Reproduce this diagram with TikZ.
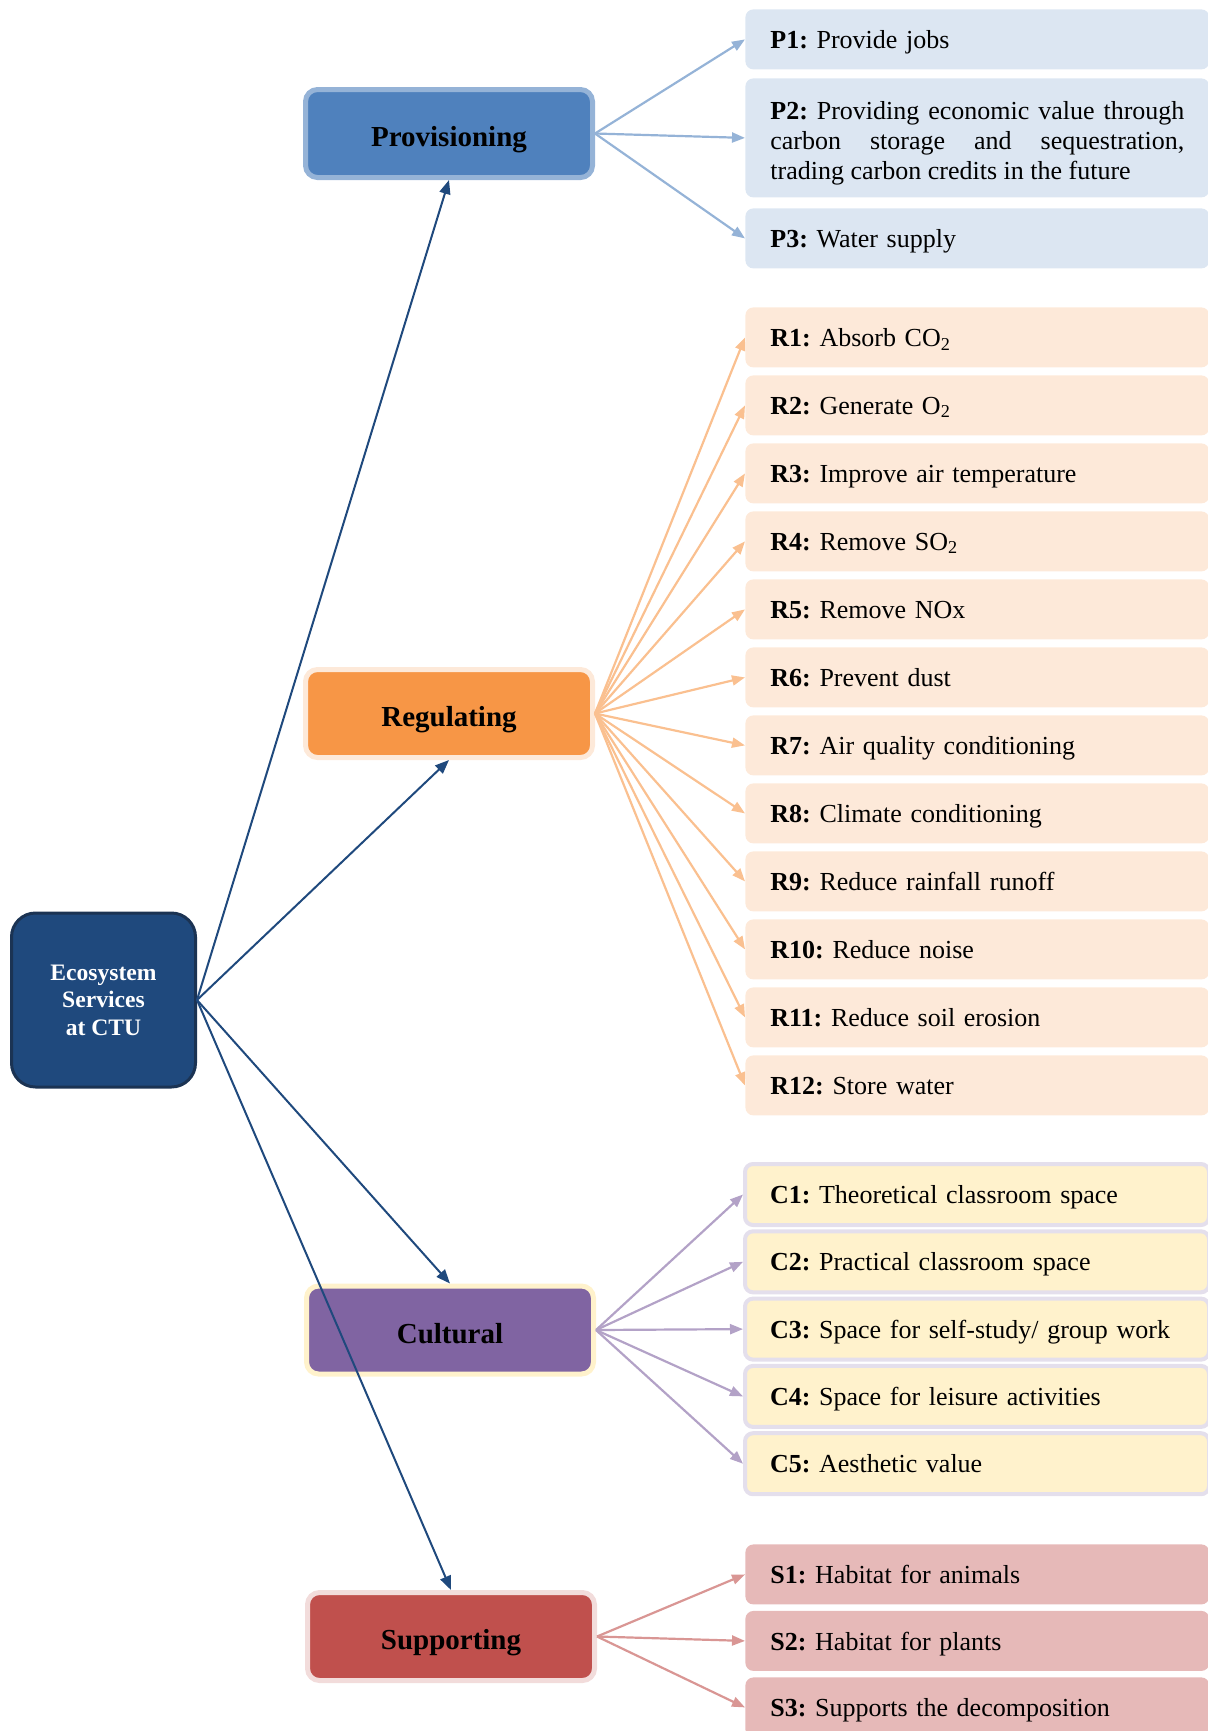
\documentclass[tikz,border=0pt]{standalone}
\usepackage{fontspec}
\setmainfont{Liberation Serif}
\usetikzlibrary{arrows.meta}
\frenchspacing

\definecolor{rootfill}{HTML}{1F497D}
\definecolor{rootline}{HTML}{1B3353}
\definecolor{provfill}{HTML}{4F81BD}
\definecolor{provline}{HTML}{95B3D7}
\definecolor{pfill}{HTML}{DCE6F2}
\definecolor{regfill}{HTML}{F79646}
\definecolor{regline}{HTML}{FDE9D9}
\definecolor{rarrow}{HTML}{FAC090}
\definecolor{cultfill}{HTML}{8064A2}
\definecolor{cultline}{HTML}{FFF2CC}
\definecolor{cline}{HTML}{E4DFEC}
\definecolor{carrow}{HTML}{B3A2C7}
\definecolor{suppfill}{HTML}{C0504D}
\definecolor{suppline}{HTML}{F2DCDB}
\definecolor{sfill}{HTML}{E6B9B8}
\definecolor{sarrow}{HTML}{D99694}

\begin{document}
\begin{tikzpicture}[x=0.5pt,y=-0.5pt,
    catbox/.style={draw, line width=2.5pt, rounded corners=6pt,
      minimum width=143.5pt, minimum height=44pt, text height=13pt, text depth=0pt,
      font=\fontsize{14.5}{17}\selectfont\bfseries},
    itembox/.style={anchor=north west, rounded corners=4pt,
      minimum height=30pt, text width=207pt, inner xsep=12.5pt,
      align=left, text depth=0pt, font=\fontsize{13}{15}\selectfont},
    subarrow/.style={line width=1.1pt, -{Triangle[length=6.5pt,width=5pt]}},
    mainarrow/.style={rootfill, line width=1pt, -{Triangle[length=7pt,width=5.5pt]}}]
  \useasboundingbox (0,0) rectangle (1208,1731);
  \clip (0,0) rectangle (1208,1731);

  % provisioning services
  \node[itembox, fill=pfill] (p1) at (745,9) {\textbf{P1:} Provide jobs};
  \node[itembox, fill=pfill, minimum height=59.5pt, align=justify,
    text height=9pt, text depth=27pt] (p2) at (745,78)
    {\textbf{P2:} Providing economic value through\linebreak carbon storage and sequestration,\linebreak trading carbon credits in the future};
  \node[itembox, fill=pfill] (p3) at (745,208) {\textbf{P3:} Water supply};

  % regulating services
  \foreach \i/\txt in {1/Absorb CO\textsubscript{2}, 2/Generate O\textsubscript{2},
      3/Improve air temperature, 4/Remove SO\textsubscript{2}, 5/Remove NOx,
      6/Prevent dust, 7/Air quality conditioning, 8/Climate conditioning,
      9/Reduce rainfall runoff, 10/Reduce noise, 11/Reduce soil erosion,
      12/Store water}
    \node[itembox, fill=regline] (r\i) at (745,{307+68*(\i-1)}) {\textbf{R\i:} \txt};

  % cultural services
  \foreach \i/\txt in {1/Theoretical classroom space, 2/Practical classroom space,
      3/{Space for self-study/ group work}, 4/Space for leisure activities,
      5/Aesthetic value}
    \node[itembox, draw=cline, line width=2pt, fill=cultline, minimum height=30.5pt]
      (c\i) at (743,{1162+67.3*(\i-1)}) {\textbf{C\i:} \txt};

  % supporting services
  \foreach \i/\txt in {1/Habitat for animals, 2/Habitat for plants,
      3/Supports the decomposition}
    \node[itembox, fill=sfill] (s\i) at (745,{1544+66.5*(\i-1)}) {\textbf{S\i:} \txt};

  % categories
  \node[catbox, draw=provline, fill=provfill] (prov) at (449,133.5) {Provisioning};
  \node[catbox, draw=regline, fill=regfill] (reg) at (449,713.5) {Regulating};
  \node[catbox, draw=cultline, fill=cultfill] (cult) at (450,1330) {Cultural};
  \node[catbox, draw=suppline, fill=suppfill] (supp) at (451,1636.5) {Supporting};

  \node[draw=rootline, line width=1.5pt, fill=rootfill, rounded corners=12pt,
    minimum width=92pt, minimum height=87pt, text=white, align=center,
    font=\fontsize{11.8}{13.8}\selectfont\bfseries] (root) at (103.5,1000)
    {Ecosystem\\Services\\at CTU};

  \foreach \i in {1,2,3}
    \draw[subarrow, provline] (prov.east) -- (p\i.west);
  \foreach \i in {1,...,12}
    \draw[subarrow, rarrow] (reg.east) -- (r\i.west);
  \foreach \i in {1,...,5}
    \draw[subarrow, carrow] (cult.east) -- (c\i.west);
  \foreach \i in {1,2,3}
    \draw[subarrow, sarrow] (supp.east) -- (s\i.west);

  \draw[mainarrow] (root.east) -- (prov.south);
  \draw[mainarrow] (root.east) -- (reg.south);
  \draw[mainarrow] (root.east) -- (cult.north);
  \draw[mainarrow] (root.east) -- (supp.north);
\end{tikzpicture}
\end{document}
